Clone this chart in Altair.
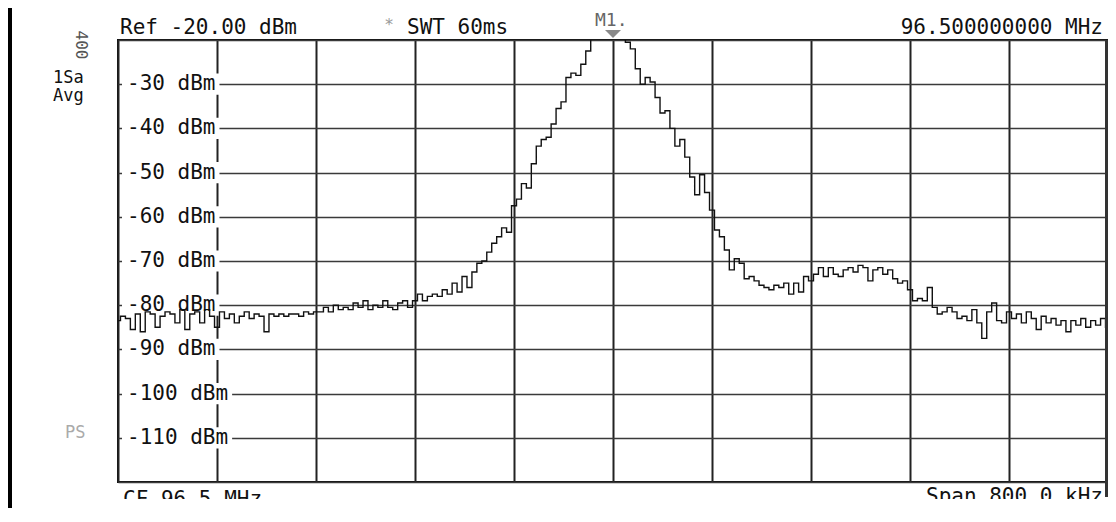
import altair as alt
import pandas as pd

# ---------------- data ----------------
START_MHZ = 96.1          # CF 96.5 MHz, span 800 kHz
CF_MHZ = [96.5]

freq_offsets_khz = [
    0, 4, 8, 12, 16, 20, 24, 28, 32, 36, 40, 44, 48, 52, 56, 60, 64, 68, 72, 76,
    80, 84, 88, 92, 96, 100, 104, 108, 112, 116, 120, 124, 128, 132, 136, 140, 144, 148, 152, 156,
    160, 164, 168, 172, 176, 180, 184, 188, 192, 196, 200, 204, 208, 212, 216, 220, 224, 228, 232, 236,
    240, 244, 248, 252, 256, 260, 264, 268, 272, 276, 280, 284, 288, 292, 296, 300, 304, 308, 312, 316,
    320, 324, 328, 332, 336, 340, 344, 348, 352, 356, 360, 364, 368, 372, 376, 380, 384, 388, 392, 396,
    400, 404, 408, 412, 416, 420, 424, 428, 432, 436, 440, 444, 448, 452, 456, 460, 464, 468, 472, 476,
    480, 484, 488, 492, 496, 500, 504, 508, 512, 516, 520, 524, 528, 532, 536, 540, 544, 548, 552, 556,
    560, 564, 568, 572, 576, 580, 584, 588, 592, 596, 600, 604, 608, 612, 616, 620, 624, 628, 632, 636,
    640, 644, 648, 652, 656, 660, 664, 668, 672, 676, 680, 684, 688, 692, 696, 700, 704, 708, 712, 716,
    720, 724, 728, 732, 736, 740, 744, 748, 752, 756, 760, 764, 768, 772, 776, 780, 784, 788, 792, 796,
    800,
]

level_dbm = [
    -83.5, -82.5, -83, -85.5, -82, -86, -81.5, -82, -85, -82.5, -81.5, -82, -84, -81, -85.5, -82, -81.5, -84, -81, -82.5, -85,
    -81.5, -83, -82, -84, -82.5, -81.5, -83, -82, -82.5, -86, -82, -82.5, -82, -82.5, -82, -82, -82.5, -81.5, -82, -81.5,
    -81.5, -80.5, -81.5, -80, -81, -80.5, -81, -79.5, -80.5, -79, -81, -80, -80.5, -79, -80.5, -81, -79.5, -79, -80.5, -79,
    -77.5, -79, -78, -77.5, -78, -76.5, -77.5, -75, -77, -73.5, -76, -72.5, -70.5, -70, -68, -66, -64.5, -62.5, -63.5, -57.5,
    -56, -52.5, -53.5, -48, -44, -42.5, -42, -39, -35.5, -34, -28.5, -27.5, -28, -25.5, -22.5, -17, -14, -11, -9.5, -9,
    -10.5, -14, -20.5, -22, -26.5, -30, -28.5, -29.5, -33, -36.5, -36, -40, -44, -42.5, -46.5, -51, -55, -50.5, -54.5, -58.5,
    -63, -64.5, -67.5, -72, -69.5, -70.5, -74, -73.5, -74.5, -75.5, -76, -76.5, -75.5, -76, -75, -77.5, -75, -77, -73.5, -74.5,
    -73, -71.5, -73.5, -71.5, -73, -73.5, -72, -71.5, -72.5, -71, -71.5, -74.5, -72, -71.5, -73, -72, -74, -75, -74.5, -76.5,
    -79, -78.5, -79, -76, -80.5, -82, -81.5, -80.5, -81.5, -83, -82.5, -83.5, -81, -84, -87.5, -81.5, -79.5, -83.5, -84, -81.5,
    -83, -82, -84, -81.5, -83, -85.5, -82.5, -84, -83, -84.5, -83.5, -86, -83.5, -84.5, -83, -85, -83.5, -84.5, -83, -85,
]

x_grid_mhz = [96.1, 96.18, 96.26, 96.34, 96.42, 96.5, 96.58, 96.66, 96.74, 96.82, 96.9]
y_grid_dbm = [-120, -110, -100, -90, -80, -70, -60, -50, -40, -30, -20]

label_levels = [-30, -40, -50, -60, -70, -80, -90, -100, -110]
label_texts = ["-30 dBm", "-40 dBm", "-50 dBm", "-60 dBm", "-70 dBm",
               "-80 dBm", "-90 dBm", "-100 dBm", "-110 dBm"]

ref_text = "Ref -20.00 dBm"
swt_text = "SWT 60ms"
marker_text = "M1."
center_text = "96.500000000 MHz"
side_texts = ["1Sa", "Avg"]
trace_no_text = "400"
ps_text = "PS"
cf_text = "CF 96.5 MHz"
span_text = "Span 800.0 kHz"

# ---------------- chart ----------------
FONT = "DejaVu Sans Mono"
FS = 21
W, H = 990, 442

trace = pd.DataFrame({
    "freq": [START_MHZ + k / 1000 for k in freq_offsets_khz],
    "level": level_dbm,
})
labels = pd.DataFrame({"level": label_levels, "label": label_texts})

xscale = alt.Scale(domain=[96.1, 96.9], nice=False, zero=False)
yscale = alt.Scale(domain=[-120, -20], nice=False, zero=False)
xaxis = alt.Axis(values=x_grid_mhz, grid=True, labels=False, ticks=False,
                 domain=False, title=None, gridColor="#222", gridWidth=2, gridOpacity=1)
yaxis = alt.Axis(values=y_grid_dbm, grid=True, labels=False, ticks=False,
                 domain=False, title=None, gridColor="#3a3a3a", gridWidth=1.6, gridOpacity=1)

label_bg = alt.Chart(labels).transform_calculate(
    x1="96.1 + 4 * 0.8 / 990",
    x2f="96.1 + (9 + length(datum.label) * 12.64 + 4) * 0.8 / 990",
    hi="datum.level + 2.4",
    lo="datum.level - 2.4",
).mark_rect(color="white").encode(
    x=alt.X("x1:Q", scale=xscale, axis=xaxis),
    x2="x2f:Q",
    y=alt.Y("hi:Q", scale=yscale, axis=yaxis),
    y2="lo:Q",
)

label_txt = alt.Chart(labels).mark_text(
    align="left", baseline="middle", font=FONT, fontSize=FS, color="#111"
).encode(
    x=alt.value(9),
    y=alt.Y("level:Q", scale=yscale, axis=yaxis),
    text="label:N",
)

line = alt.Chart(trace).mark_line(
    interpolate="step", color="#111", strokeWidth=1.4, clip=True
).encode(
    x=alt.X("freq:Q", scale=xscale, axis=xaxis),
    y=alt.Y("level:Q", scale=yscale, axis=yaxis),
)

marker = alt.Chart(pd.DataFrame({"freq": CF_MHZ})).mark_point(
    shape="M-1,-0.5L1,-0.5L0,0.5Z", size=256, filled=True, color="#8a8a8a", opacity=1
).encode(
    x=alt.X("freq:Q", scale=xscale, axis=xaxis),
    y=alt.value(-6),
)


def note(text, x, y, align="left", baseline="alphabetic", size=FS, color="#111", angle=0):
    return alt.Chart(pd.DataFrame({"t": [text]})).mark_text(
        align=align, baseline=baseline, fontSize=size, font=FONT, color=color, angle=angle
    ).encode(x=alt.value(x), y=alt.value(y), text="t:N")


def box(x, x2, y, y2, color):
    return alt.Chart(pd.DataFrame({"a": [0]})).mark_rect(color=color).encode(
        x=alt.value(x), x2=alt.value(x2), y=alt.value(y), y2=alt.value(y2)
    )


notes = [
    note(ref_text, 2, -6),
    note("*", 271, -10, align="center", size=16, color="#9a9a9a"),
    note(swt_text, 289, -6),
    note(marker_text, 477, -14, size=18, color="#666"),
    note(center_text, 985, -6, align="right"),
    note(trace_no_text, -37, 5, align="center", baseline="middle", size=16, color="#555", angle=90),
    note(side_texts[0], -65, 43, size=17),
    note(side_texts[1], -65, 61, size=17),
    note(ps_text, -53, 393, baseline="middle", size=17, color="#aaa"),
    note(cf_text, 5, 449, baseline="top"),
    note(span_text, 985, 446, align="right", baseline="top"),
]

layers = [label_bg, label_txt, line, marker] + notes + [
    box(-110, 990, 459, 470, "white"),      # bottom of footer text is cut off
    box(987, 990, 0, 457, "#333"),          # instrument edge at the right
    box(-110, -106, -32, 470, "#000"),      # outer left border
]

chart = alt.layer(*layers).properties(
    width=W,
    height=H,
    autosize=alt.AutoSizeParams(type="none"),
    padding={"left": 110, "top": 32, "right": 0, "bottom": 26},
    background="white",
).configure_view(stroke="#111", strokeWidth=2)

chart.save("out.html", embed_options={"renderer": "svg", "actions": False})
